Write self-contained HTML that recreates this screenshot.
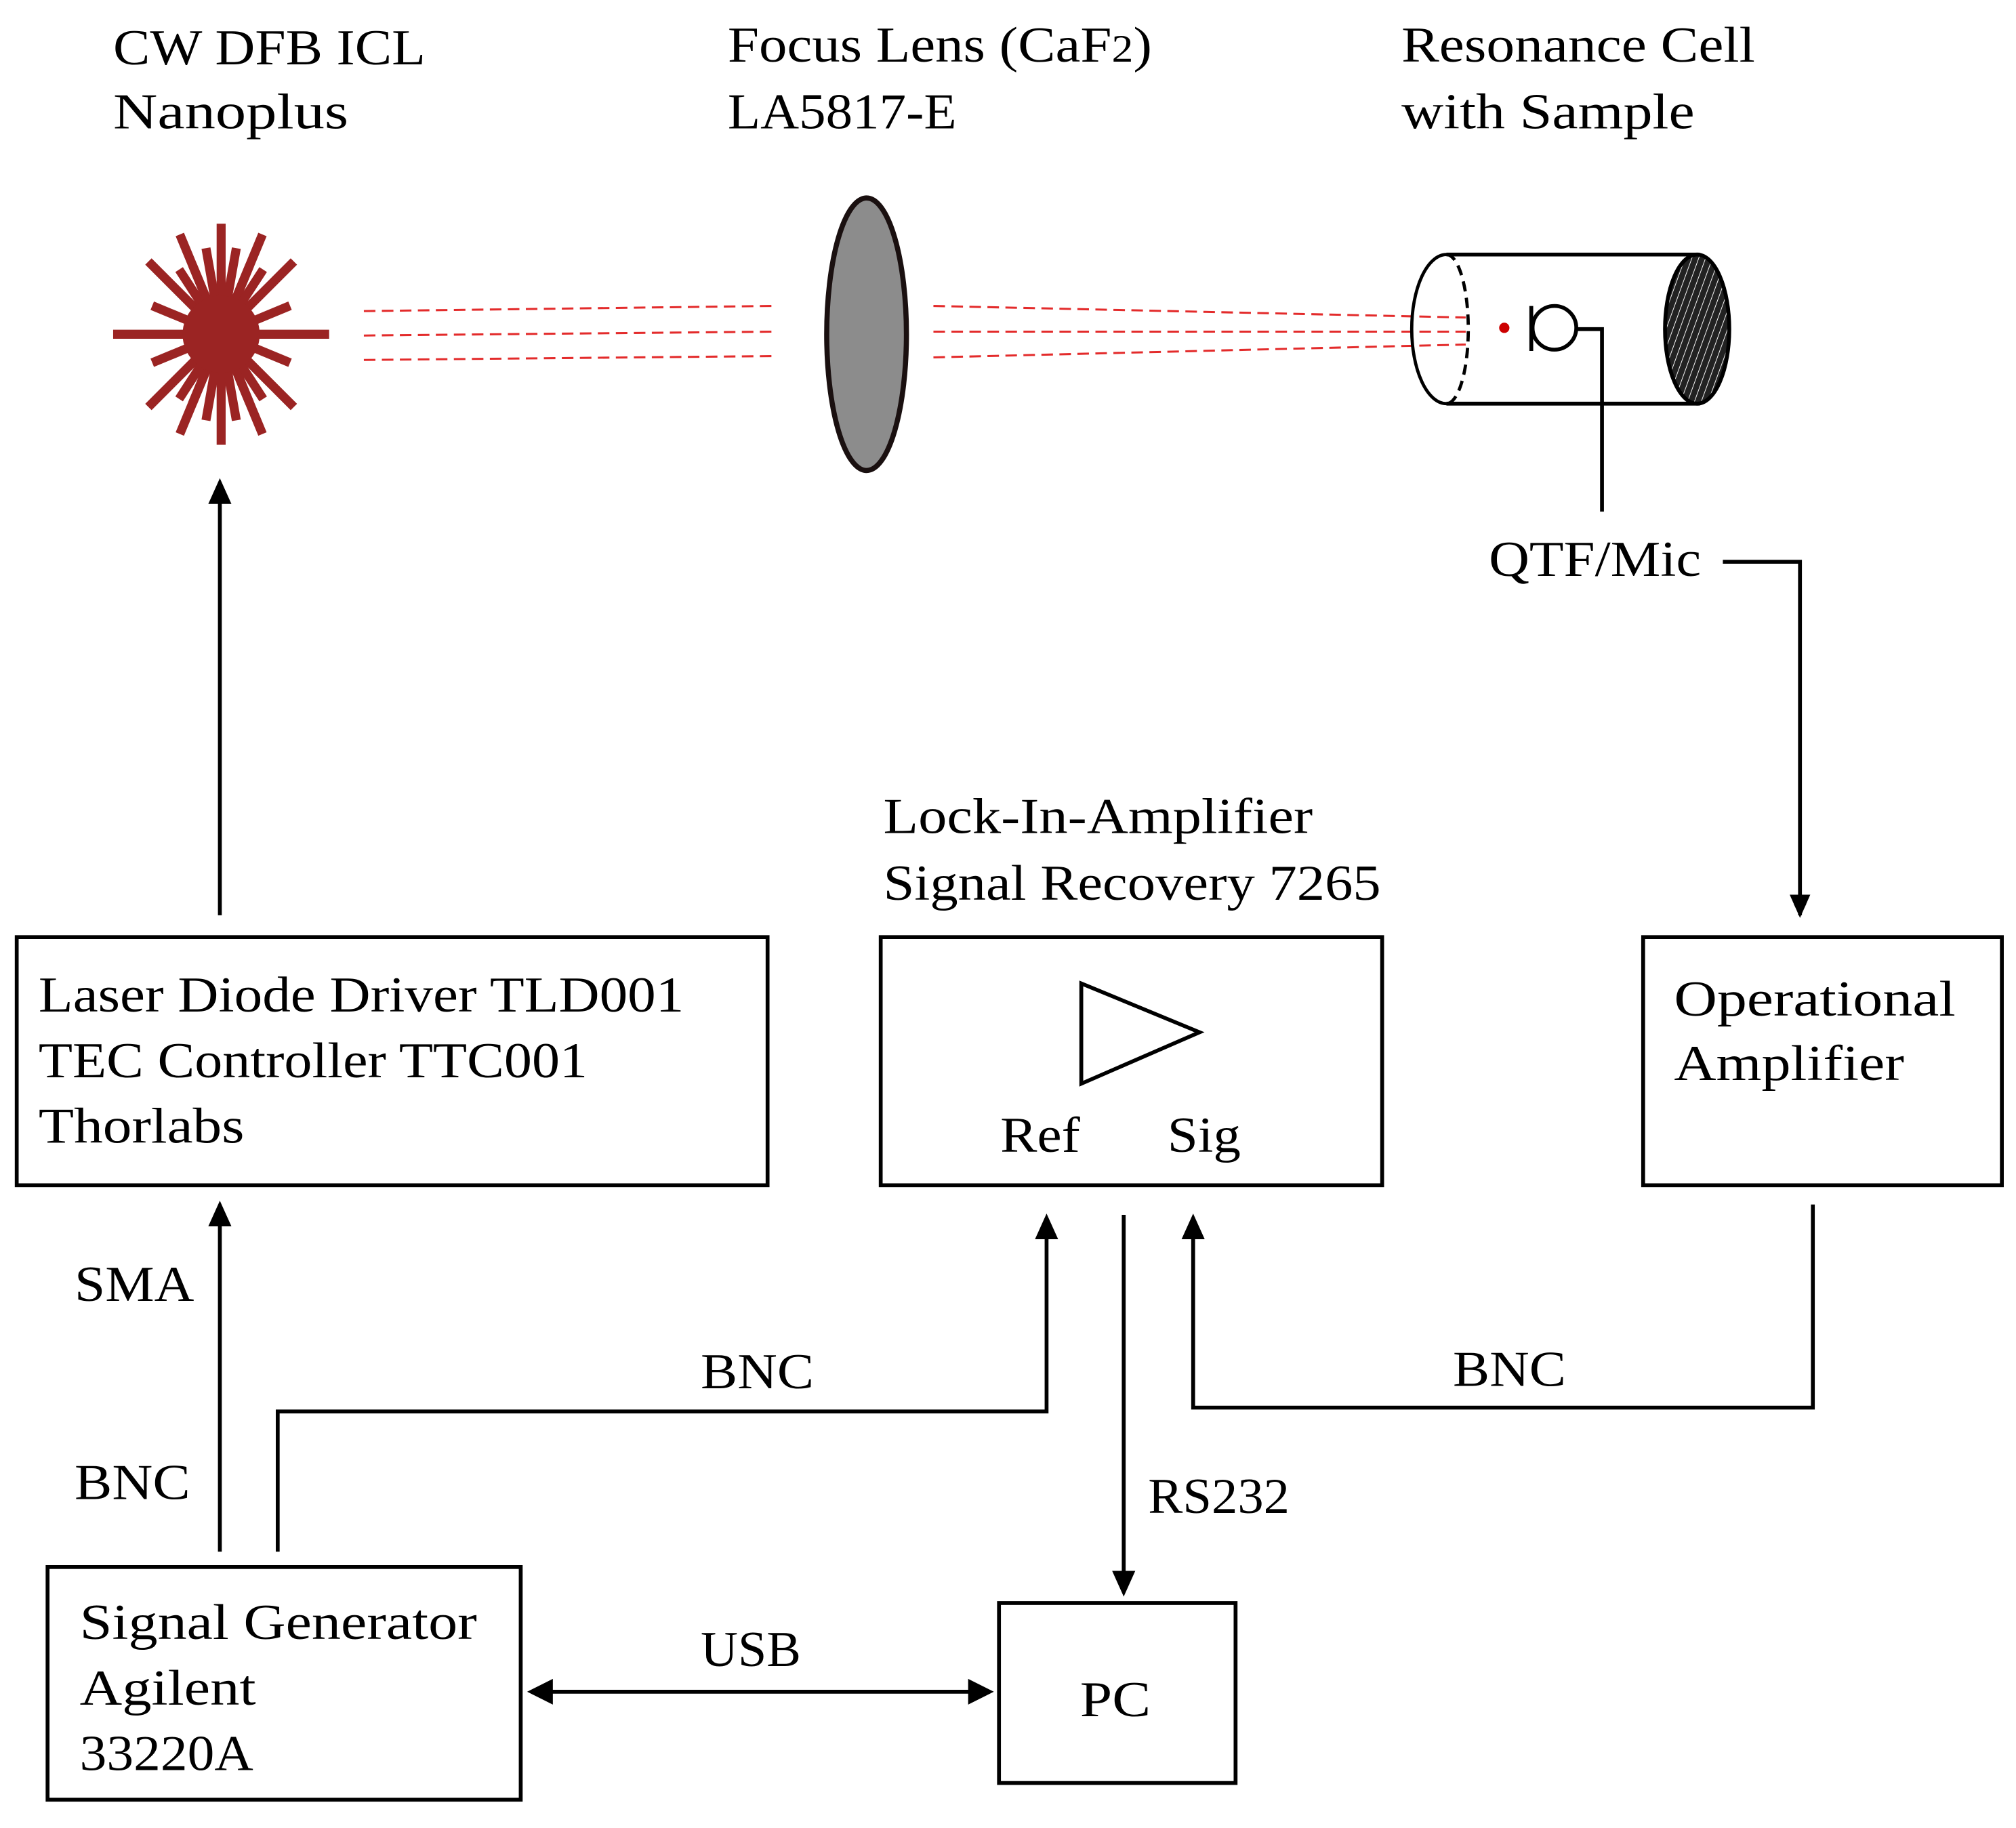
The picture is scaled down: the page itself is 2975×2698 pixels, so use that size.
<!DOCTYPE html>
<html><head><meta charset="utf-8"><style>
html,body{margin:0;padding:0;background:#fff}
svg{display:block}
text{font-family:"Liberation Serif",serif;font-size:39px;fill:#000}
</style></head><body>
<svg width="2975" height="2698" viewBox="0 0 1568 1422" xmlns="http://www.w3.org/2000/svg">
<defs>
<pattern id="h" width="5" height="5" patternUnits="userSpaceOnUse" patternTransform="rotate(20)">
<rect width="5" height="5" fill="#222"/><line x1="0" y1="0" x2="0" y2="5" stroke="#fff" stroke-width="1"/>
</pattern>
<marker id="a" markerWidth="10" markerHeight="10" refX="9" refY="5" orient="auto" markerUnits="userSpaceOnUse" viewBox="0 0 10 10">
<path d="M0,0 L10,5 L0,10 z" fill="#000"/></marker>
</defs>
<rect width="1568" height="1422" fill="#fff"/>
<!-- top labels -->
<text x="88" y="50" textLength="243" lengthAdjust="spacingAndGlyphs">CW DFB ICL</text>
<text x="88" y="100" textLength="183" lengthAdjust="spacingAndGlyphs">Nanoplus</text>
<text x="566" y="48" textLength="330" lengthAdjust="spacingAndGlyphs">Focus Lens (CaF<tspan font-size="30">2</tspan>)</text>
<text x="566" y="100" textLength="178" lengthAdjust="spacingAndGlyphs">LA5817-E</text>
<text x="1090" y="48" textLength="275" lengthAdjust="spacingAndGlyphs">Resonance Cell</text>
<text x="1090" y="100" textLength="228" lengthAdjust="spacingAndGlyphs">with Sample</text>
<!-- laser star -->
<g stroke="#9b2423" stroke-width="7" transform="translate(172,260)">
<line x1="-84" y1="0" x2="84" y2="0"/><line x1="0" y1="-86" x2="0" y2="86"/>
<g transform="rotate(45)"><line x1="-80" y1="0" x2="80" y2="0"/><line x1="0" y1="-80" x2="0" y2="80"/></g>
<g transform="rotate(22.5)"><line x1="-58" y1="0" x2="58" y2="0"/><line x1="0" y1="-84" x2="0" y2="84"/></g>
<g transform="rotate(-22.5)"><line x1="-58" y1="0" x2="58" y2="0"/><line x1="0" y1="-84" x2="0" y2="84"/></g>
<g transform="rotate(67.5)"><line x1="-58" y1="0" x2="58" y2="0"/></g>
<g transform="rotate(-67.5)"><line x1="-58" y1="0" x2="58" y2="0"/></g>
<g transform="rotate(10)"><line x1="0" y1="-68" x2="0" y2="68"/></g>
<g transform="rotate(-10)"><line x1="0" y1="-68" x2="0" y2="68"/></g>
<g transform="rotate(33)"><line x1="0" y1="-60" x2="0" y2="60"/></g>
<g transform="rotate(-33)"><line x1="0" y1="-60" x2="0" y2="60"/></g>
</g>
<circle cx="172" cy="260" r="30" fill="#9b2423"/>
<!-- beams -->
<g stroke="#e32b2b" stroke-width="1.6" stroke-dasharray="9,5" fill="none">
<line x1="283" y1="242" x2="600" y2="238"/><line x1="283" y1="261" x2="600" y2="258"/><line x1="283" y1="280" x2="600" y2="277"/>
<line x1="726" y1="238" x2="1140" y2="247"/><line x1="726" y1="258" x2="1140" y2="258"/><line x1="726" y1="278" x2="1140" y2="268"/>
</g>
<!-- lens -->
<ellipse cx="674" cy="260" rx="31" ry="106" fill="#8c8c8c" stroke="#1a1010" stroke-width="4"/>
<!-- cylinder -->
<line x1="1125" y1="198" x2="1322" y2="198" stroke="#000" stroke-width="3"/>
<line x1="1125" y1="314" x2="1322" y2="314" stroke="#000" stroke-width="3"/>
<path d="M1125,198 A27,58 0 0,0 1125,314" fill="none" stroke="#000" stroke-width="2.5"/>
<path d="M1125,198 A17,58 0 0,1 1125,314" fill="none" stroke="#000" stroke-width="2.5" stroke-dasharray="8,5"/>
<ellipse cx="1320" cy="256" rx="25" ry="58" fill="url(#h)" stroke="#000" stroke-width="3"/>
<circle cx="1170" cy="255" r="4" fill="#c00"/>
<line x1="1191" y1="238" x2="1191" y2="273" stroke="#000" stroke-width="3"/>
<circle cx="1209" cy="255" r="17" fill="none" stroke="#000" stroke-width="3"/>
<polyline points="1226,256 1246,256 1246,398" fill="none" stroke="#000" stroke-width="3"/>
<text x="1158" y="448" textLength="165" lengthAdjust="spacingAndGlyphs">QTF/Mic</text>
<polyline points="1340,437 1400,437 1400,712" fill="none" stroke="#000" stroke-width="3" marker-end="url(#a)"/>
<path d="M1392,696 L1400,714 L1408,696 z" fill="#000"/>
<!-- boxes -->
<g fill="none" stroke="#000" stroke-width="3">
<rect x="13" y="729" width="584" height="193"/>
<rect x="685" y="729" width="390" height="193"/>
<rect x="1278" y="729" width="279" height="193"/>
<rect x="37" y="1219" width="368" height="181"/>
<rect x="777" y="1247" width="184" height="140"/>
<polygon points="841,765 841,843 933,803"/>
</g>
<text x="30" y="787" textLength="502" lengthAdjust="spacingAndGlyphs">Laser Diode Driver TLD001</text>
<text x="30" y="838" textLength="427" lengthAdjust="spacingAndGlyphs">TEC Controller TTC001</text>
<text x="30" y="889" textLength="160" lengthAdjust="spacingAndGlyphs">Thorlabs</text>
<text x="687" y="648" textLength="334" lengthAdjust="spacingAndGlyphs">Lock-In-Amplifier</text>
<text x="687" y="700" textLength="387" lengthAdjust="spacingAndGlyphs">Signal Recovery 7265</text>
<text x="778" y="896" textLength="62" lengthAdjust="spacingAndGlyphs">Ref</text>
<text x="908" y="896" textLength="57" lengthAdjust="spacingAndGlyphs">Sig</text>
<text x="1302" y="790" textLength="219" lengthAdjust="spacingAndGlyphs">Operational</text>
<text x="1302" y="840" textLength="179" lengthAdjust="spacingAndGlyphs">Amplifier</text>
<text x="62" y="1275" textLength="309" lengthAdjust="spacingAndGlyphs">Signal Generator</text>
<text x="62" y="1326" textLength="137" lengthAdjust="spacingAndGlyphs">Agilent</text>
<text x="62" y="1377" textLength="135" lengthAdjust="spacingAndGlyphs">33220A</text>
<text x="840" y="1335" textLength="55" lengthAdjust="spacingAndGlyphs">PC</text>
<!-- connectors -->
<g fill="none" stroke="#000" stroke-width="3">
<line x1="171" y1="712" x2="171" y2="390"/>
<line x1="171" y1="1207" x2="171" y2="952"/>
<polyline points="216,1207 216,1098 814,1098 814,962"/>
<polyline points="1410,937 1410,1095 928,1095 928,962"/>
<line x1="874" y1="945" x2="874" y2="1225"/>
<line x1="428" y1="1316" x2="755" y2="1316"/>
</g>
<g fill="#000">
<path d="M162,392 L171,372 L180,392 z"/>
<path d="M162,954 L171,934 L180,954 z"/>
<path d="M805,964 L814,944 L823,964 z"/>
<path d="M919,964 L928,944 L937,964 z"/>
<path d="M865,1222 L874,1242 L883,1222 z"/>
<path d="M430,1306 L410,1316 L430,1326 z"/>
<path d="M753,1306 L773,1316 L753,1326 z"/>
</g>
<text x="58" y="1012" textLength="93" lengthAdjust="spacingAndGlyphs">SMA</text>
<text x="58" y="1166" textLength="90" lengthAdjust="spacingAndGlyphs">BNC</text>
<text x="545" y="1080" textLength="88" lengthAdjust="spacingAndGlyphs">BNC</text>
<text x="1130" y="1078" textLength="88" lengthAdjust="spacingAndGlyphs">BNC</text>
<text x="893" y="1177" textLength="110" lengthAdjust="spacingAndGlyphs">RS232</text>
<text x="545" y="1296" textLength="78" lengthAdjust="spacingAndGlyphs">USB</text>
</svg>
</body></html>
